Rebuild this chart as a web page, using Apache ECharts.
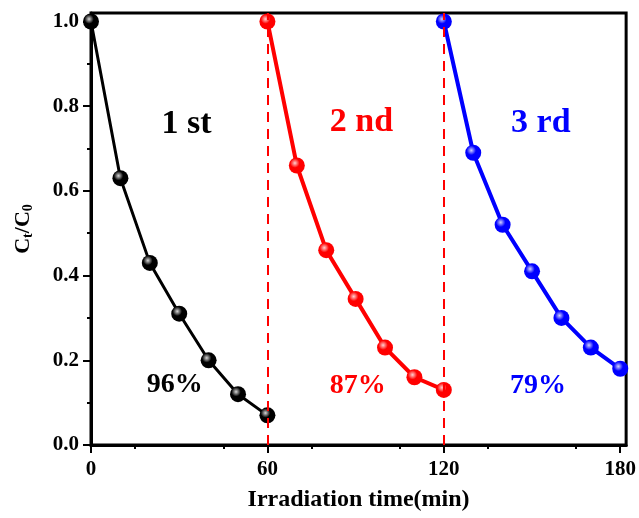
<!DOCTYPE html>
<html><head><meta charset="utf-8">
<script src="https://cdn.jsdelivr.net/npm/echarts@6/dist/echarts.min.js"></script>
<style>html,body{margin:0;padding:0;background:#fff}#c{width:639px;height:518px}</style>
</head><body><div id="c"></div>
<script>
var run1X = [0,10,20,30,40,50,60];
var run1Y = [1.0,0.63,0.43,0.31,0.20,0.12,0.07];
var run2X = [60,70,80,90,100,110,120];
var run2Y = [1.0,0.66,0.46,0.345,0.23,0.16,0.13];
var run3X = [120,130,140,150,160,170,180];
var run3Y = [1.0,0.69,0.52,0.41,0.30,0.23,0.18];
var xTicks = [0,60,120,180];
var yTicks = [0,0.2,0.4,0.6,0.8,1.0];
var dividers = [60,120];
var cycleLabels = [{x:32.5,y:0.757,text:'1 st',color:'#000000'},{x:92,y:0.762,text:'2 nd',color:'#ff0000'},{x:153,y:0.76,text:'3 rd',color:'#0000ff'}];
var pctLabels = [{x:28.5,y:0.143,text:'96%',color:'#000000'},{x:90.7,y:0.141,text:'87%',color:'#ff0000'},{x:152,y:0.141,text:'79%',color:'#0000ff'}];

var FONT = 'Liberation Serif';
function pairs(xs, ys){ return xs.map(function(x,i){return [x, ys[i]];}); }
function ball(c, hi){
  return {type:'radial', x:0.38, y:0.35, r:0.65, colorStops:[{offset:0,color:hi},{offset:0.45,color:c},{offset:1,color:c}]};
}
function runSeries(xs, ys, color, hi, lw){
  return {type:'line', data:pairs(xs,ys), symbol:'circle', symbolSize:16, z:3,
    lineStyle:{color:color,width:lw}, itemStyle:{color:ball(color,hi), borderWidth:0}, emphasis:{disabled:true}};
}
function textSeries(arr, size){
  return {type:'scatter', symbolSize:0, z:5, silent:true, itemStyle:{opacity:1},
    data:arr.map(function(d){return {value:[d.x,d.y], label:{show:true, position:'inside', formatter:d.text, color:d.color, opacity:1, fontSize:size, fontWeight:'bold', fontFamily:FONT}};})};
}
var chart = echarts.init(document.getElementById('c'));
chart.setOption({
  animation:false,
  grid:{left:91,right:11,top:13,bottom:73,show:true,borderColor:'#000',borderWidth:3,backgroundColor:'transparent'},
  xAxis:{type:'value',min:0,max:182,
    name:'Irradiation time(min)',nameLocation:'middle',nameGap:43,
    nameTextStyle:{fontFamily:FONT,fontWeight:'bold',fontSize:24,color:'#000'},
    axisLine:{lineStyle:{color:'#000',width:3}},
    axisTick:{show:true,inside:false,length:8,lineStyle:{width:2,color:'#000'},customValues:xTicks},
    minorTick:{show:true,splitNumber:2,length:4,lineStyle:{width:2,color:'#000'}},
    axisLabel:{customValues:xTicks,fontFamily:FONT,fontWeight:'bold',fontSize:21,color:'#000',margin:14},
    splitLine:{show:false}},
  yAxis:{type:'value',min:0,max:1.02,
    name:'{a|C}{s|t}{a|/C}{s|0}',nameLocation:'middle',nameGap:56,nameRotate:90,
    nameTextStyle:{rich:{a:{fontFamily:FONT,fontWeight:'bold',fontSize:22,color:'#000'},s:{fontFamily:FONT,fontWeight:'bold',fontSize:14,color:'#000',verticalAlign:'bottom',padding:[10,0,0,0]}}},
    axisLine:{lineStyle:{color:'#000',width:3}},
    axisTick:{show:true,inside:false,length:8,lineStyle:{width:2,color:'#000'},customValues:yTicks},
    minorTick:{show:true,splitNumber:2,length:4,lineStyle:{width:2,color:'#000'}},
    axisLabel:{customValues:yTicks,formatter:function(v){return v.toFixed(1);},fontFamily:FONT,fontWeight:'bold',fontSize:21,color:'#000',margin:12},
    splitLine:{show:false}},
  series:[
    runSeries(run1X, run1Y, '#000000', '#d8d8d8', 3),
    runSeries(run2X, run2Y, '#ff0000', '#ffd0d0', 4),
    runSeries(run3X, run3Y, '#0000ff', '#d0d0ff', 4),
    {type:'line', data:[], markLine:{silent:true, symbol:'none', label:{show:false},
      lineStyle:{color:'#ff0000', width:2, type:[10,7]},
      data:dividers.map(function(v){return {xAxis:v};})}, z:2},
    textSeries(cycleLabels, 34),
    textSeries(pctLabels, 28)
  ]
});
</script></body></html>
